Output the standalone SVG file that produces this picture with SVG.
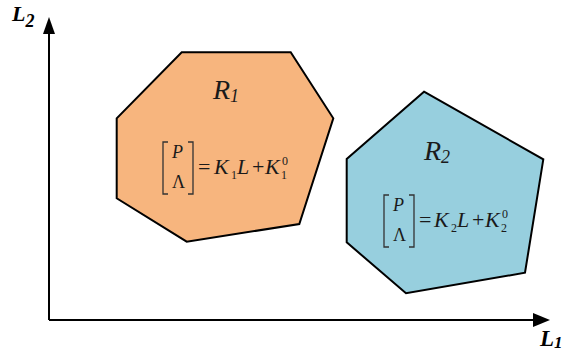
<svg xmlns="http://www.w3.org/2000/svg" width="567" height="354" viewBox="0 0 567 354">
<style>
.poly{stroke:#000;stroke-width:2;stroke-linejoin:miter}
.t{font-family:"Liberation Serif","Times New Roman",serif;fill:#1a1a1a}
.it{font-style:italic}
.br{fill:none;stroke:#333;stroke-width:1.3}
.ax{stroke:#000;stroke-width:2;fill:none}
.lab{font-family:"Liberation Serif","Times New Roman",serif;font-style:italic;font-weight:bold;fill:#000}
</style>
<g id="connectors">
<path class="ax" d="M49,320 V30"/>
<polygon points="43,34 49,17 55,34" fill="#000"/>
<path class="ax" d="M49,320 H536"/>
<polygon points="533,313 550,320 533,327" fill="#000"/>
</g>
<g id="axis-L2">
<text class="lab" x="12" y="21" font-size="22">L<tspan font-size="18" dy="6">2</tspan></text>
</g>
<g id="axis-L1">
<text class="lab" x="540" y="346" font-size="23">L<tspan font-size="17" dy="2">1</tspan></text>
</g>
<g id="R1">
<polygon class="poly" fill="#F7B57E" points="181.7,52.3 290.7,52.3 333.3,118.3 299.3,224 186.7,241.7 116.7,198.3 116.7,118.3"/>
<text class="t it" x="213" y="99" font-size="28">R<tspan font-size="18" dy="3">1</tspan></text>
<path class="br" d="M168,142 H163 V194 H168 M188,142 H193 V194 H188"/>
<text class="t it" x="172" y="158" font-size="18">P</text>
<text class="t" x="172" y="188" font-size="18">Λ</text>
<text class="t" x="198" y="174" font-size="22">=</text>
<text class="t it" x="214" y="174" font-size="22">K</text>
<text class="t" x="231" y="179" font-size="12">1</text>
<text class="t it" x="237" y="174" font-size="22">L</text>
<text class="t" x="252" y="174" font-size="22">+</text>
<text class="t it" x="265" y="174" font-size="22">K</text>
<text class="t" x="282" y="165" font-size="12">0</text>
<text class="t" x="281" y="179" font-size="12">1</text>
</g>
<g id="R2">
<polygon class="poly" fill="#97CFDE" points="424,91.7 543.3,159.3 525,272.7 406,293.3 346.7,242.3 346.7,159"/>
<text class="t it" x="424" y="160" font-size="28">R<tspan font-size="18" dy="3">2</tspan></text>
<path class="br" d="M389,195 H384 V247 H389 M409,195 H414 V247 H409"/>
<text class="t it" x="393" y="211" font-size="18">P</text>
<text class="t" x="393" y="241" font-size="18">Λ</text>
<text class="t" x="419" y="227" font-size="22">=</text>
<text class="t it" x="434" y="227" font-size="22">K</text>
<text class="t" x="451" y="232" font-size="12">2</text>
<text class="t it" x="457" y="227" font-size="22">L</text>
<text class="t" x="472" y="227" font-size="22">+</text>
<text class="t it" x="485" y="227" font-size="22">K</text>
<text class="t" x="502" y="218" font-size="12">0</text>
<text class="t" x="501" y="232" font-size="12">2</text>
</g>
</svg>
